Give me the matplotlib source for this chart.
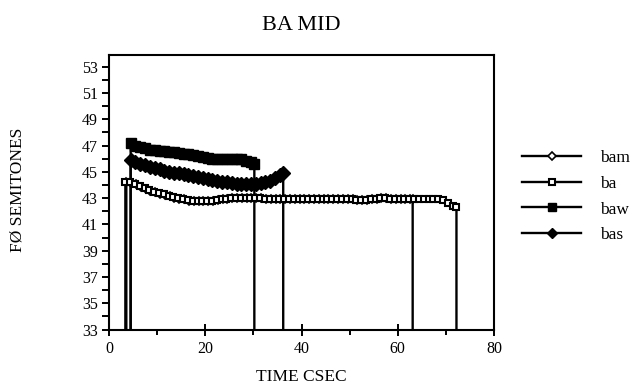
import matplotlib
matplotlib.use("Agg")
import matplotlib.pyplot as plt
from matplotlib.ticker import MultipleLocator

plt.rcParams['font.family'] = ['Liberation Serif', 'DejaVu Serif']

# ---- data ----
title = "BA MID"
x_label = "TIME CSEC"
y_label = "FØ SEMITONES"
baseline = 33  # each trace starts and ends with a drop line to this level

ba_t = [3.4, 4.4, 5.4, 6.4, 7.4, 8.4, 9.4, 10.4, 11.4, 12.4, 13.4, 14.4, 15.4,
        16.4, 17.4, 18.4, 19.4, 20.4, 21.4, 22.4, 23.4, 24.4, 25.4, 26.4, 27.4,
        28.4, 29.4, 30.4, 31.4, 32.4, 33.4, 34.4, 35.4, 36.4, 37.4, 38.4, 39.4,
        40.4, 41.4, 42.4, 43.4, 44.4, 45.4, 46.4, 47.4, 48.4, 49.4, 50.4, 51.4,
        52.4, 53.4, 54.4, 55.4, 56.4, 57.4, 58.4, 59.4, 60.4, 61.4, 62.4, 63.4,
        64.4, 65.4, 66.4, 67.4, 68.4, 69.4, 70.4, 71.4, 72.2]
ba_f0 = [44.25, 44.2, 44.1, 43.9, 43.75, 43.6, 43.5, 43.4, 43.3, 43.2, 43.1, 43.0, 42.9,
         42.85, 42.75, 42.75, 42.75, 42.8, 42.8, 42.85, 42.9, 42.95, 43.0, 43.0, 43.0,
         43.05, 43.05, 43.0, 43.0, 42.95, 42.95, 42.95, 42.95, 42.95, 42.95, 42.95, 42.95,
         42.95, 42.95, 42.95, 42.95, 42.95, 42.95, 42.95, 42.95, 42.95, 42.9, 42.9, 42.85,
         42.85, 42.85, 42.9, 42.95, 43.0, 43.0, 42.95, 42.95, 42.95, 42.95, 42.95, 42.95,
         42.95, 42.95, 42.95, 42.95, 42.95, 42.85, 42.6, 42.4, 42.3]

bam_t = [3.6, 4.6, 5.6, 6.6, 7.6, 8.6, 9.6, 10.6, 11.6, 12.6, 13.6, 14.6, 15.6,
         16.6, 17.6, 18.6, 19.6, 20.6, 21.6, 22.6, 23.6, 24.6, 25.6, 26.6, 27.6,
         28.6, 29.6, 30.6, 31.6, 32.6, 33.6, 34.6, 35.6, 36.6, 37.6, 38.6, 39.6,
         40.6, 41.6, 42.6, 43.6, 44.6, 45.6, 46.6, 47.6, 48.6, 49.6, 50.6, 51.6,
         52.6, 53.6, 54.6, 55.6, 56.6, 57.6, 58.6, 59.6, 60.6, 61.6, 62.6, 63.1]
bam_f0 = [44.2, 44.15, 44.05, 43.85, 43.7, 43.55, 43.45, 43.35, 43.25, 43.15, 43.05, 42.95, 42.9,
          42.8, 42.75, 42.75, 42.75, 42.8, 42.8, 42.85, 42.9, 42.95, 43.0, 43.0, 43.0,
          43.0, 43.05, 43.0, 43.0, 42.95, 42.95, 42.95, 42.95, 42.95, 42.95, 42.95, 42.95,
          42.95, 42.95, 42.95, 42.95, 42.95, 42.95, 42.95, 42.95, 42.95, 42.9, 42.9, 42.85,
          42.85, 42.85, 42.9, 42.95, 43.0, 43.0, 42.95, 42.95, 42.95, 42.95, 42.95, 42.95]

baw_t = [4.5, 5.5, 6.5, 7.5, 8.5, 9.5, 10.5, 11.5, 12.5, 13.5, 14.5, 15.5, 16.5,
         17.5, 18.5, 19.5, 20.5, 21.5, 22.5, 23.5, 24.5, 25.5, 26.5, 27.5, 28.5,
         29.5, 30.2]
baw_f0 = [47.2, 47.0, 46.9, 46.8, 46.7, 46.65, 46.6, 46.6, 46.55, 46.5, 46.45, 46.4, 46.4,
          46.3, 46.2, 46.1, 46.05, 46.0, 45.95, 45.95, 45.95, 45.95, 45.95, 45.95, 45.85,
          45.75, 45.6]

bas_t = [4.5, 5.5, 6.5, 7.5, 8.5, 9.5, 10.5, 11.5, 12.5, 13.5, 14.5, 15.5, 16.5,
         17.5, 18.5, 19.5, 20.5, 21.5, 22.5, 23.5, 24.5, 25.5, 26.5, 27.5, 28.5,
         29.5, 30.5, 31.5, 32.5, 33.5, 34.5, 35.5, 36.2]
bas_f0 = [45.9, 45.75, 45.6, 45.5, 45.4, 45.3, 45.25, 45.1, 45.0, 44.95, 44.9, 44.85, 44.75,
          44.7, 44.6, 44.55, 44.45, 44.35, 44.3, 44.25, 44.2, 44.15, 44.1, 44.1, 44.1,
          44.1, 44.1, 44.15, 44.2, 44.3, 44.5, 44.75, 44.9]

series_names = ["bam", "ba", "baw", "bas"]
x_ticks = [0, 20, 40, 60, 80]
y_ticks = [33, 35, 37, 39, 41, 43, 45, 47, 49, 51, 53]

# ---- styles ----
styles = {
    "bam": dict(marker="D", mfc="white", mec="black", ms=4.5, mew=1.2),
    "ba": dict(marker="s", mfc="white", mec="black", ms=5.0, mew=1.5),
    "baw": dict(marker="s", mfc="black", mec="black", ms=7.0, mew=1.0),
    "bas": dict(marker="D", mfc="black", mec="black", ms=7.0, mew=1.0),
}
data = {"bam": (bam_t, bam_f0), "ba": (ba_t, ba_f0),
        "baw": (baw_t, baw_f0), "bas": (bas_t, bas_f0)}

fig = plt.figure(figsize=(6.33, 3.85), dpi=100)
ax = fig.add_axes([109 / 633, 1 - 329.5 / 385, (494 - 109) / 633, (329.5 - 55) / 385])

handles = []
for name in series_names:
    t, f = data[name]
    st = styles[name]
    # drop lines to baseline at start and end
    ax.plot([t[0]] + list(t) + [t[-1]], [baseline] + list(f) + [baseline],
            color="black", lw=1.7, zorder=2)
    ax.plot(t, f, ls="none", zorder=3, **st)
    h, = ax.plot([], [], color="black", lw=1.7, **st)
    handles.append(h)

ax.set_xlim(0, 80)
ax.set_ylim(33, 53.9)
ax.set_xticks(x_ticks)
ax.xaxis.set_minor_locator(MultipleLocator(10))
ax.set_yticks(y_ticks)
ax.yaxis.set_minor_locator(MultipleLocator(1))
ax.tick_params(axis="x", which="major", direction="inout", length=9, width=1.4,
               labelsize=11.5, pad=4)
ax.tick_params(axis="x", which="minor", direction="out", length=3.5, width=1.4)
ax.tick_params(axis="y", which="both", direction="out", length=5, width=1.4,
               labelsize=11.5, pad=3)
for sp in ax.spines.values():
    sp.set_linewidth(1.5)

fig.text(301.5 / 633, 1 - 26 / 385, title, ha="center", va="center", fontsize=16)
fig.text(301.5 / 633, 1 - 377 / 385, x_label, ha="center", va="center", fontsize=12.5)
fig.text(18 / 633, 1 - 190 / 385, y_label, ha="center", va="center", rotation=90,
         fontsize=12.5)

fig.legend(handles, series_names, loc="upper left",
           bbox_to_anchor=(522 / 633, 1 - 150 / 385), frameon=False,
           fontsize=12.5, handlelength=3.4, handletextpad=1.1, labelspacing=0.55,
           borderpad=0, borderaxespad=0, markerscale=0.8)

fig.savefig("out.png", dpi=100)
